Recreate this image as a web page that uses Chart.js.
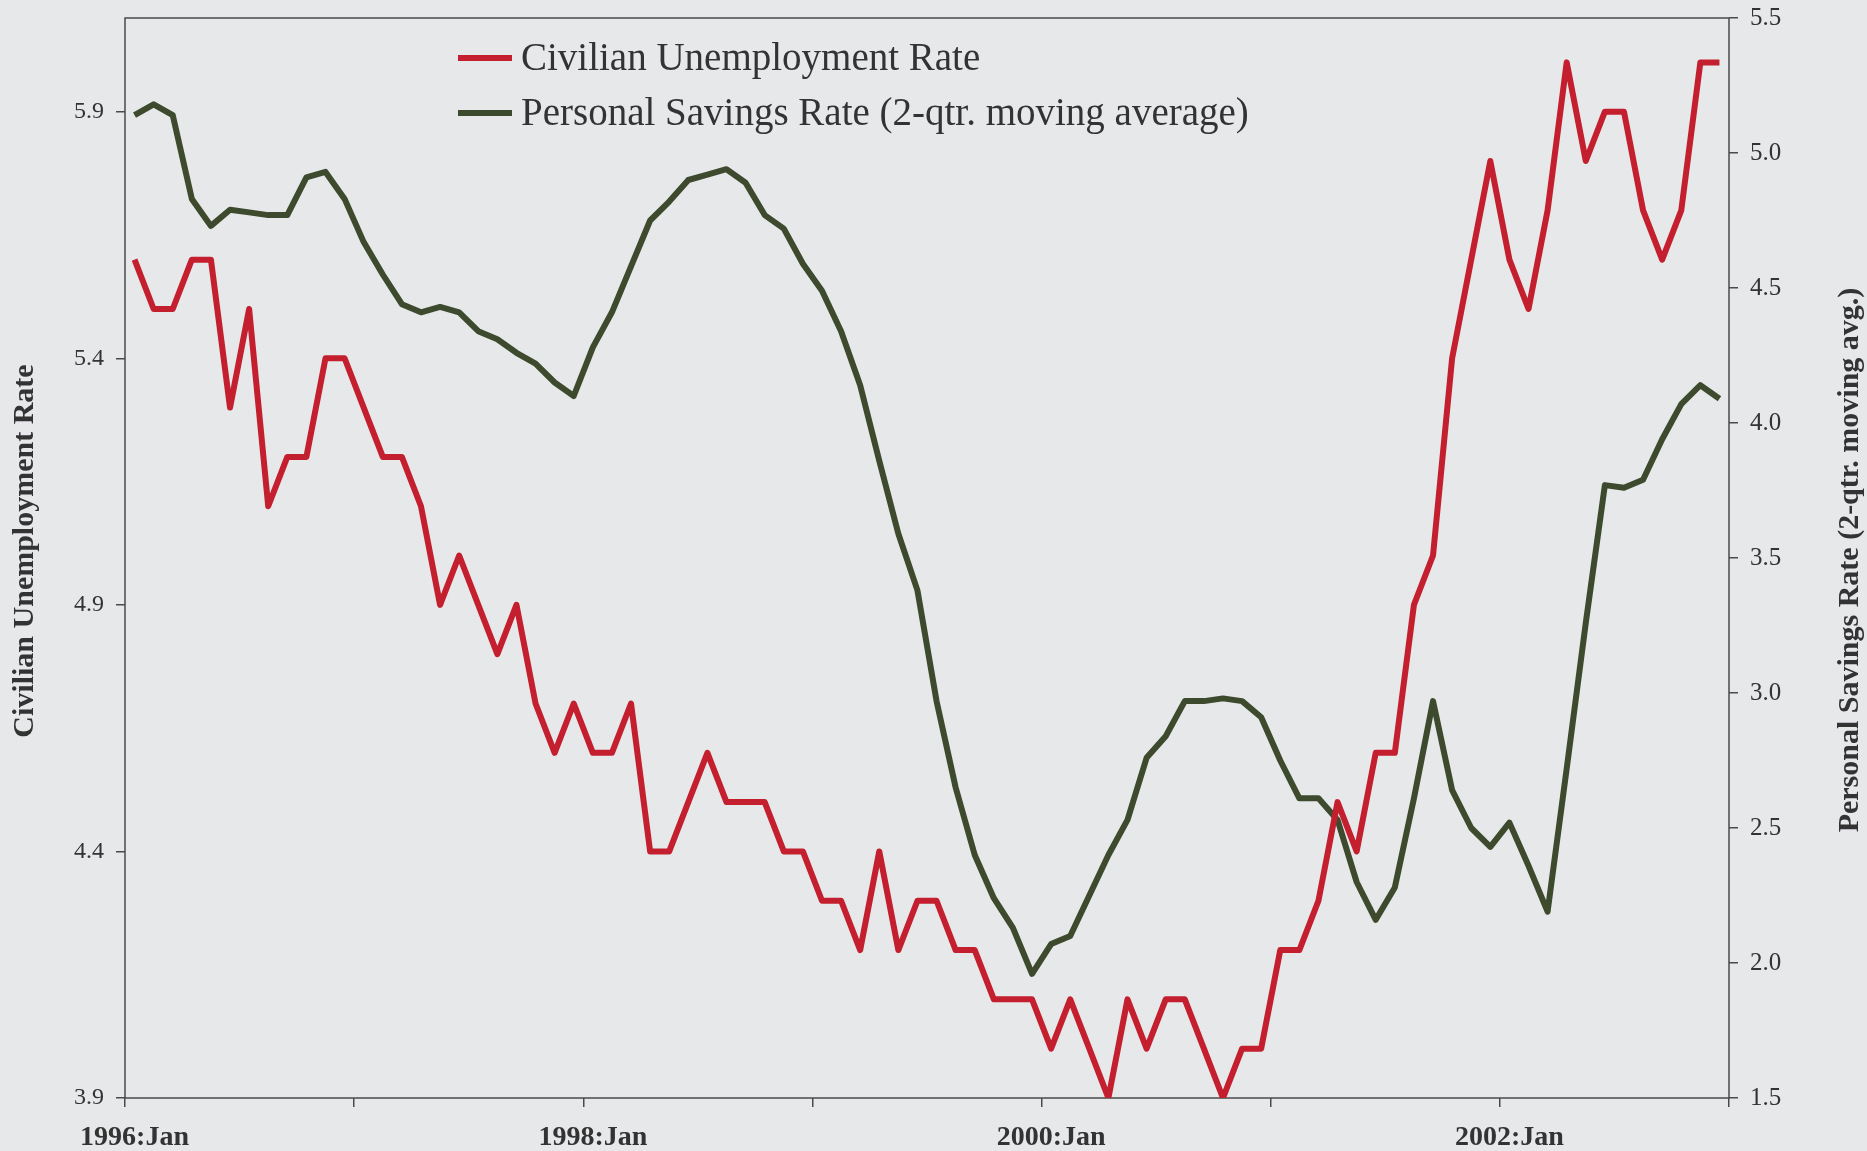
<!DOCTYPE html>
<html>
<head>
<meta charset="utf-8">
<title>Unemployment vs Personal Savings Rate</title>
<script src="https://cdn.jsdelivr.net/npm/chart.js@4.4.1/dist/chart.umd.min.js"></script>
<style>
    html, body { margin: 0; padding: 0; background: #e7e8ea; }
    canvas { display: block; }
</style>
</head>
<body>
<canvas id="chart" width="1867" height="1151"></canvas>
<script>
// months 1996:Jan .. 2002:Dec
const years = ['1996', '1997', '1998', '1999', '2000', '2001', '2002'];
const monthNames = ['Jan', 'Feb', 'Mar', 'Apr', 'May', 'Jun', 'Jul', 'Aug', 'Sep', 'Oct', 'Nov', 'Dec'];
const months = years.flatMap(y => monthNames.map(m => y + ':' + m));

const xTickLabels = ['1996:Jan', '1998:Jan', '2000:Jan', '2002:Jan'];
const leftTicks = [3.9, 4.4, 4.9, 5.4, 5.9];
const rightTicks = [1.5, 2.0, 2.5, 3.0, 3.5, 4.0, 4.5, 5.0, 5.5];

const unemployment = [
    5.6, 5.5, 5.5, 5.6, 5.6, 5.3, 5.5, 5.1, 5.2, 5.2, 5.4, 5.4,
    5.3, 5.2, 5.2, 5.1, 4.9, 5.0, 4.9, 4.8, 4.9, 4.7, 4.6, 4.7,
    4.6, 4.6, 4.7, 4.4, 4.4, 4.5, 4.6, 4.5, 4.5, 4.5, 4.4, 4.4,
    4.3, 4.3, 4.2, 4.4, 4.2, 4.3, 4.3, 4.2, 4.2, 4.1, 4.1, 4.1,
    4.0, 4.1, 4.0, 3.9, 4.1, 4.0, 4.1, 4.1, 4.0, 3.9, 4.0, 4.0,
    4.2, 4.2, 4.3, 4.5, 4.4, 4.6, 4.6, 4.9, 5.0, 5.4, 5.6, 5.8,
    5.6, 5.5, 5.7, 6.0, 5.8, 5.9, 5.9, 5.7, 5.6, 5.7, 6.0, 6.0
];

const savings = [
    5.14, 5.18, 5.14, 4.83, 4.73, 4.79, 4.78, 4.77, 4.77, 4.91, 4.93, 4.83,
    4.67, 4.55, 4.44, 4.41, 4.43, 4.41, 4.34, 4.31, 4.26, 4.22, 4.15, 4.10,
    4.28, 4.41, 4.58, 4.75, 4.82, 4.90, 4.92, 4.94, 4.89, 4.77, 4.72, 4.59,
    4.49, 4.34, 4.14, 3.86, 3.59, 3.38, 2.97, 2.65, 2.40, 2.24, 2.13, 1.96,
    2.07, 2.10, 2.25, 2.40, 2.53, 2.76, 2.84, 2.97, 2.97, 2.98, 2.97, 2.91,
    2.75, 2.61, 2.61, 2.53, 2.30, 2.16, 2.28, 2.61, 2.97, 2.64, 2.50, 2.43,
    2.52, 2.36, 2.19, 2.72, 3.26, 3.77, 3.76, 3.79, 3.94, 4.07, 4.14, 4.09
];

const serif = "'Liberation Serif', 'Times New Roman', serif";
const textColor = '#333333';
const axisColor = '#4a4a4a';

// page background
const bgPlugin = {
    id: 'bg',
    beforeDraw(chart) {
        const ctx = chart.ctx;
        ctx.save();
        ctx.fillStyle = '#e7e8ea';
        ctx.fillRect(0, 0, chart.width, chart.height);
        ctx.restore();
    }
};

// box round the plot area
const framePlugin = {
    id: 'frame',
    beforeDatasetsDraw(chart) {
        const a = chart.chartArea;
        const ctx = chart.ctx;
        ctx.save();
        ctx.strokeStyle = axisColor;
        ctx.lineWidth = 1.5;
        ctx.strokeRect(a.left, a.top, a.right - a.left, a.bottom - a.top);
        ctx.restore();
    }
};

// legend inside the plot + axis titles (both read bottom-to-top)
const labelsPlugin = {
    id: 'labels',
    afterDraw(chart) {
        const ctx = chart.ctx;
        const a = chart.chartArea;
        ctx.save();
        chart.data.datasets.forEach((ds, i) => {
            const y = 58 + i * 55;
            ctx.strokeStyle = ds.borderColor;
            ctx.lineWidth = 6;
            ctx.beginPath();
            ctx.moveTo(458, y);
            ctx.lineTo(512, y);
            ctx.stroke();
            ctx.fillStyle = textColor;
            ctx.font = '39px ' + serif;
            ctx.textBaseline = 'middle';
            ctx.textAlign = 'left';
            ctx.fillText(ds.legendText, 521, y + 2);
        });

        ctx.font = 'bold 30px ' + serif;
        ctx.fillStyle = textColor;
        ctx.textAlign = 'center';
        ctx.textBaseline = 'middle';
        const midY = (a.top + a.bottom) / 2;

        ctx.save();
        ctx.translate(25, midY - 7);
        ctx.rotate(-Math.PI / 2);
        ctx.fillText('Civilian Unemployment Rate', 0, 0);
        ctx.restore();

        ctx.save();
        ctx.translate(1850, midY + 2);
        ctx.rotate(-Math.PI / 2);
        ctx.fillText('Personal Savings Rate (2-qtr. moving avg.)', 0, 0);
        ctx.restore();

        ctx.restore();
    }
};

new Chart(document.getElementById('chart'), {
    type: 'line',
    data: {
        labels: months,
        datasets: [
            {
                label: 'Civilian Unemployment Rate',
                legendText: 'Civilian Unemployment Rate',
                data: unemployment,
                yAxisID: 'y',
                borderColor: '#c41f2e',
                borderWidth: 6,
                pointRadius: 0,
                tension: 0,
                borderJoinStyle: 'round'
            },
            {
                label: 'Personal Savings Rate',
                legendText: 'Personal Savings Rate (2-qtr. moving average)',
                data: savings,
                yAxisID: 'y1',
                borderColor: '#3d4a2d',
                borderWidth: 6,
                pointRadius: 0,
                tension: 0,
                borderJoinStyle: 'round'
            }
        ]
    },
    options: {
        responsive: false,
        animation: false,
        devicePixelRatio: 1,
        layout: { padding: { top: 18, left: 0, right: 0, bottom: 0 } },
        plugins: {
            legend: { display: false },
            tooltip: { enabled: false }
        },
        scales: {
            x: {
                type: 'category',
                offset: true,
                border: { display: false },
                grid: {
                    offset: true,
                    drawOnChartArea: false,
                    drawTicks: true,
                    tickLength: 9,
                    lineWidth: 1.5,
                    color: c => (c.index === undefined || c.index % 12 === 0) ? axisColor : 'rgba(0,0,0,0)'
                },
                ticks: {
                    autoSkip: false,
                    maxRotation: 0,
                    minRotation: 0,
                    padding: 14,
                    color: textColor,
                    font: { family: serif, size: 28, weight: 'bold' },
                    callback: function(value) {
                        const label = this.getLabelForValue(value);
                        return xTickLabels.includes(label) ? label : '';
                    }
                },
                afterFit: s => { s.height = 53; }
            },
            y: {
                type: 'linear',
                position: 'left',
                min: 3.9,
                max: 6.09,
                border: { display: false },
                afterBuildTicks: s => { s.ticks = leftTicks.map(v => ({ value: v })); },
                grid: { drawOnChartArea: false, tickLength: 9, lineWidth: 1.5, color: axisColor },
                ticks: {
                    padding: 12,
                    color: textColor,
                    font: { family: serif, size: 24 },
                    callback: v => v.toFixed(1)
                },
                afterFit: s => { s.width = 125; s.paddingTop = 0; s.paddingBottom = 0; }
            },
            y1: {
                type: 'linear',
                position: 'right',
                min: 1.5,
                max: 5.5,
                border: { display: false },
                afterBuildTicks: s => { s.ticks = rightTicks.map(v => ({ value: v })); },
                grid: { drawOnChartArea: false, tickLength: 9, lineWidth: 1.5, color: axisColor },
                ticks: {
                    padding: 12,
                    color: textColor,
                    font: { family: serif, size: 25 },
                    callback: v => v.toFixed(1)
                },
                afterFit: s => { s.width = 138; s.paddingTop = 0; s.paddingBottom = 0; }
            }
        }
    },
    plugins: [bgPlugin, framePlugin, labelsPlugin]
});
</script>
</body>
</html>
